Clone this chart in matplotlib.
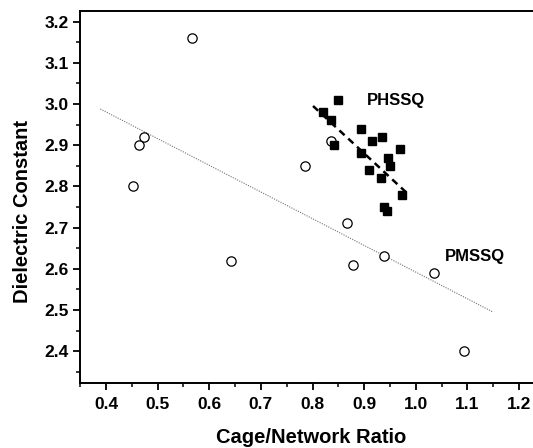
import matplotlib
matplotlib.use("Agg")
import matplotlib.pyplot as plt
import numpy as np

plt.rcParams['font.family'] = ['Liberation Sans', 'DejaVu Sans']
plt.rcParams['font.weight'] = 'bold'

# PMSSQ (open circles)
pmssq_x = [0.453, 0.463, 0.474, 0.567, 0.642, 0.786, 0.835, 0.866, 0.879, 0.939, 1.036, 1.093]
pmssq_y = [2.80, 2.90, 2.92, 3.16, 2.62, 2.85, 2.91, 2.71, 2.61, 2.63, 2.59, 2.40]

# PHSSQ (filled squares)
phssq_x = [0.850, 0.821, 0.836, 0.842, 0.893, 0.893, 0.916, 0.934, 0.910, 0.933, 0.946, 0.951, 0.970, 0.974, 0.939, 0.945]
phssq_y = [3.01, 2.98, 2.96, 2.90, 2.94, 2.88, 2.91, 2.92, 2.84, 2.82, 2.87, 2.85, 2.89, 2.78, 2.75, 2.74]

# linear fits (slope, intercept) and x-range
pmssq_fit = (-0.648, 3.240)
pmssq_fit_range = [0.389, 1.150]
phssq_fit = (-1.162, 3.926)
phssq_fit_range = [0.801, 0.986]

fig = plt.figure(figsize=(5.33, 4.48), dpi=100)
ax = fig.add_axes([0.1501, 0.1458, 0.8499, 0.8296])

fx = np.array(pmssq_fit_range)
ax.plot(fx, pmssq_fit[0] * fx + pmssq_fit[1], color='0.45', lw=0.8, linestyle=(0, (1, 1.2)), zorder=1)
hx = np.array(phssq_fit_range)
ax.plot(hx, phssq_fit[0] * hx + phssq_fit[1], color='black', lw=1.8, dashes=(2.8, 2.0), zorder=3)

ax.plot(pmssq_x, pmssq_y, 'o', ms=6.7, mfc='white', mec='black', mew=0.9, linestyle='none', zorder=2)
ax.plot(phssq_x, phssq_y, 's', ms=5.4, mfc='black', mec='black', linestyle='none', zorder=2)

ax.text(0.961, 3.009, 'PHSSQ', fontsize=12, fontweight='bold', ha='center', va='center')
ax.text(1.114, 2.631, 'PMSSQ', fontsize=12, fontweight='bold', ha='center', va='center')

ax.set_xlim(0.3497, 1.227)
ax.set_ylim(2.3236, 3.2257)
ax.set_xticks(np.arange(0.4, 1.21, 0.1))
ax.set_xticks(np.arange(0.35, 1.23, 0.05), minor=True)
ax.set_yticks(np.arange(2.4, 3.21, 0.1))
ax.set_yticks(np.arange(2.35, 3.22, 0.05), minor=True)
ax.xaxis.set_major_formatter(matplotlib.ticker.FormatStrFormatter('%.1f'))
ax.yaxis.set_major_formatter(matplotlib.ticker.FormatStrFormatter('%.1f'))
ax.tick_params(which='major', direction='out', length=5, width=1.3, labelsize=12.5)
ax.tick_params(which='minor', direction='out', length=3, width=1.1)
ax.tick_params(axis='x', which='major', pad=5)
ax.tick_params(axis='y', which='major', pad=3)
ax.tick_params(top=False, right=False, which='both')
for s in ['left', 'bottom', 'top']:
    ax.spines[s].set_linewidth(1.4)
ax.spines['right'].set_visible(False)

ax.set_xlabel('Cage/Network Ratio', fontsize=14.5, fontweight='bold', va='baseline')
ax.xaxis.set_label_coords(0.51, -0.163)
ax.set_ylabel('Dielectric Constant', fontsize=14.5, fontweight='bold', va='center')
ax.yaxis.set_label_coords(-0.1265, 0.46)

fig.savefig('out.png', dpi=100)
